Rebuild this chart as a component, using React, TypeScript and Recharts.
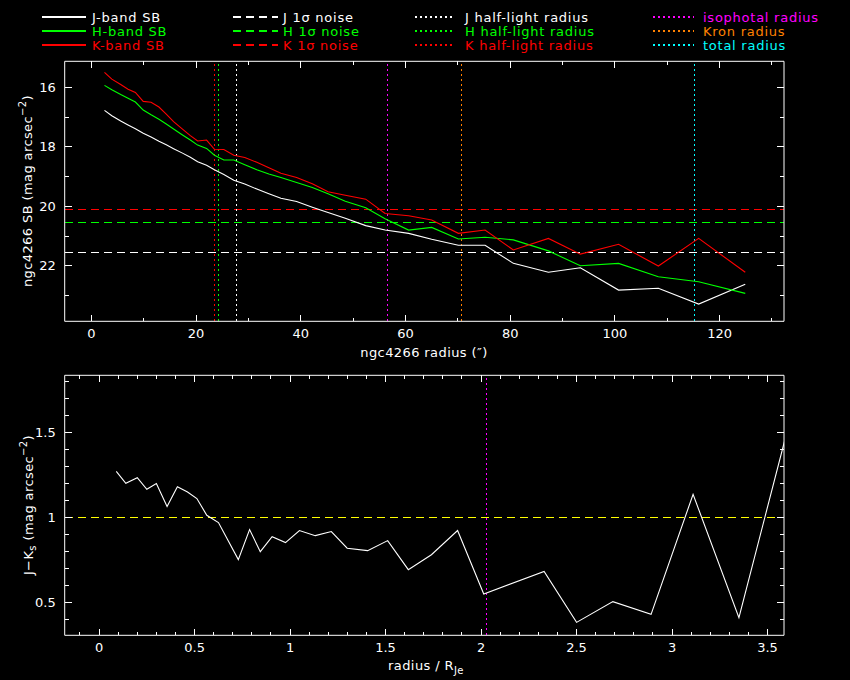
import React from 'react';
import { LineChart, Line, XAxis, YAxis, ReferenceLine } from 'recharts';

// surface brightness profiles (radius in arcsec)
const RADIUS = [
  2.5, 3.9, 5.6, 7.0, 8.4, 9.9, 11.4, 12.9, 14.3, 15.7, 17.4, 18.9, 20.3, 22.0, 23.5, 25.3, 27.2, 29.3, 31.6,
  33.9, 36.2, 39.2, 42.2, 45.2, 48.5, 52.4, 56.1, 60.6, 65.0, 70.1, 75.2, 80.6, 87.3, 93.4, 100.7, 108.3, 116.0,
  124.9,
];
const J_SB = [
  16.77, 16.95, 17.13, 17.26, 17.39, 17.54, 17.67, 17.81, 17.93, 18.06, 18.21, 18.35, 18.5, 18.62, 18.77, 18.93,
  19.12, 19.25, 19.42, 19.58, 19.73, 19.84, 20.03, 20.21, 20.4, 20.65, 20.8, 20.91, 21.11, 21.31, 21.31, 21.92,
  22.22, 22.07, 22.82, 22.76, 23.29, 22.62,
];
const H_SB = [
  15.93, 16.08, 16.24, 16.36, 16.49, 16.76, 16.92, 17.07, 17.23, 17.4, 17.6, 17.77, 17.94, 18.05, 18.28, 18.44,
  18.44, 18.6, 18.77, 18.91, 19.03, 19.2, 19.37, 19.58, 19.83, 20.05, 20.42, 20.8, 20.71, 21.1, 21.04, 21.13, 21.5,
  22.0, 21.92, 22.37, 22.54, 22.93,
];
const K_SB = [
  15.49, 15.72, 15.9, 16.06, 16.17, 16.47, 16.5, 16.66, 16.9, 17.15, 17.4, 17.62, 17.8, 17.77, 18.08, 18.09, 18.28,
  18.36, 18.52, 18.7, 18.89, 19.03, 19.24, 19.51, 19.63, 19.76, 20.24, 20.32, 20.46, 20.91, 20.8, 21.47, 21.08,
  21.61, 21.28, 22.01, 21.08, 22.22,
];

// 1 sigma noise levels and radii
const NOISE = { J: 21.55, H: 20.54, K: 20.12 };
const HALF_LIGHT = { J: 27.7, H: 24.3, K: 23.5 };
const ISO_RADIUS = 56.5;
const KRON_RADIUS = 70.7;
const TOTAL_RADIUS = 115.2;

// colour profile, radius in units of R_Je
const R_JE = [
  0.09, 0.14, 0.2, 0.25, 0.3, 0.356, 0.41, 0.463, 0.512, 0.564, 0.625, 0.729, 0.788, 0.844, 0.906, 0.976, 1.049,
  1.132, 1.216, 1.299, 1.406, 1.511, 1.619, 1.74, 1.877, 2.014, 2.33, 2.5, 2.69, 2.89, 3.11, 3.35, 3.61,
];
const J_K = [
  1.27, 1.2, 1.233, 1.165, 1.198, 1.063, 1.18, 1.149, 1.11, 1.012, 0.969, 0.751, 0.928, 0.798, 0.886, 0.851, 0.922,
  0.892, 0.916, 0.818, 0.804, 0.863, 0.692, 0.78, 0.922, 0.549, 0.682, 0.382, 0.504, 0.429, 1.135, 0.41, 1.54,
];
const ISO_RJE = 2.028;
const JK_REF = 1;

// ticks
const X1_TICKS = [0, 10, 20, 30, 40, 50, 60, 70, 80, 90, 100, 110, 120, 130];
const Y1_TICKS = [16, 17, 18, 19, 20, 21, 22, 23];
const X2_TICKS = [
  -0.1, 0, 0.1, 0.2, 0.3, 0.4, 0.5, 0.6, 0.7, 0.8, 0.9, 1, 1.1, 1.2, 1.3, 1.4, 1.5, 1.6, 1.7, 1.8, 1.9, 2, 2.1, 2.2,
  2.3, 2.4, 2.5, 2.6, 2.7, 2.8, 2.9, 3, 3.1, 3.2, 3.3, 3.4, 3.5,
];
const Y2_TICKS = [0.4, 0.5, 0.6, 0.7, 0.8, 0.9, 1, 1.1, 1.2, 1.3, 1.4, 1.5, 1.6, 1.7, 1.8];

const WHITE = '#ffffff';
const GREEN = '#00ff00';
const RED = '#ff0000';
const MAGENTA = '#ff00ff';
const ORANGE = '#ff8000';
const CYAN = '#00ffff';
const YELLOW = '#ffff00';
const FONT = '"DejaVu Sans", sans-serif';
const DASH = '8 5';
const DOT = '2 3';

const sbData = RADIUS.map((r, i) => ({ r, j: J_SB[i], h: H_SB[i], k: K_SB[i] }));
const jkData = R_JE.map((x, i) => ({ x, jk: J_K[i] }));

const isMajor = (v: number, step: number) => Math.abs(v / step - Math.round(v / step)) < 1e-6;

// inward PGPLOT-style ticks, labels only on the bottom/left axes
function makeTick(side: 'bottom' | 'top' | 'left' | 'right', step: number, labelled: boolean) {
  return (props: any) => {
    const { x, y, payload } = props;
    const v = payload.value as number;
    const big = isMajor(v, step);
    const horiz = side === 'bottom' || side === 'top';
    const len = horiz ? (big ? 6.5 : 3.5) : big ? 7 : 4;
    let x2 = x;
    let y2 = y;
    if (side === 'bottom') y2 = y - len;
    if (side === 'top') y2 = y + len;
    if (side === 'left') x2 = x + len;
    if (side === 'right') x2 = x - len;
    return (
      <g>
        <line x1={x} y1={y} x2={x2} y2={y2} stroke={WHITE} strokeWidth={1} shapeRendering="crispEdges" />
        {labelled && big && side === 'bottom' && (
          <text x={x} y={y + 12.5} textAnchor="middle" dominantBaseline="central" fill={WHITE} fontSize={13} fontFamily={FONT}>
            {String(Math.round(v * 10) / 10)}
          </text>
        )}
        {labelled && big && side === 'left' && (
          <text x={x - 9} y={y} textAnchor="end" dominantBaseline="central" fill={WHITE} fontSize={13} fontFamily={FONT}>
            {String(Math.round(v * 10) / 10)}
          </text>
        )}
      </g>
    );
  };
}

const axisLine = { stroke: WHITE, strokeWidth: 1 };

function SBChart() {
  return (
    <LineChart width={850} height={340} data={sbData} margin={{ top: 51.3, right: 56, bottom: 8.7, left: 14.7 }}>
      <XAxis
        xAxisId="b"
        type="number"
        dataKey="r"
        domain={[-5.1, 132.3]}
        allowDataOverflow
        ticks={X1_TICKS}
        interval={0}
        tickSize={0}
        tickMargin={0}
        height={10}
        axisLine={axisLine}
        tickLine={false}
        tick={makeTick('bottom', 20, true)}
      />
      <XAxis
        xAxisId="t"
        orientation="top"
        type="number"
        dataKey="r"
        domain={[-5.1, 132.3]}
        allowDataOverflow
        ticks={X1_TICKS}
        interval={0}
        tickSize={0}
        tickMargin={0}
        height={10}
        axisLine={axisLine}
        tickLine={false}
        tick={makeTick('top', 20, false)}
      />
      <YAxis
        yAxisId="l"
        type="number"
        domain={[15.12, 23.87]}
        reversed
        allowDataOverflow
        ticks={Y1_TICKS}
        interval={0}
        tickSize={0}
        tickMargin={0}
        width={50}
        axisLine={axisLine}
        tickLine={false}
        tick={makeTick('left', 2, true)}
      />
      <YAxis
        yAxisId="r"
        orientation="right"
        type="number"
        domain={[15.12, 23.87]}
        reversed
        allowDataOverflow
        ticks={Y1_TICKS}
        interval={0}
        tickSize={0}
        tickMargin={0}
        width={10}
        axisLine={axisLine}
        tickLine={false}
        tick={makeTick('right', 2, false)}
      />
      <ReferenceLine xAxisId="b" yAxisId="l" y={NOISE.K} stroke={RED} strokeDasharray={DASH} shapeRendering="crispEdges" />
      <ReferenceLine xAxisId="b" yAxisId="l" y={NOISE.H} stroke={GREEN} strokeDasharray={DASH} shapeRendering="crispEdges" />
      <ReferenceLine xAxisId="b" yAxisId="l" y={NOISE.J} stroke={WHITE} strokeDasharray={DASH} shapeRendering="crispEdges" />
      <ReferenceLine xAxisId="b" yAxisId="l" x={HALF_LIGHT.K} stroke={RED} strokeDasharray={DOT} shapeRendering="crispEdges" />
      <ReferenceLine xAxisId="b" yAxisId="l" x={HALF_LIGHT.H} stroke={GREEN} strokeDasharray={DOT} shapeRendering="crispEdges" />
      <ReferenceLine xAxisId="b" yAxisId="l" x={HALF_LIGHT.J} stroke={WHITE} strokeDasharray={DOT} shapeRendering="crispEdges" />
      <ReferenceLine xAxisId="b" yAxisId="l" x={ISO_RADIUS} stroke={MAGENTA} strokeDasharray={DOT} shapeRendering="crispEdges" />
      <ReferenceLine xAxisId="b" yAxisId="l" x={KRON_RADIUS} stroke={ORANGE} strokeDasharray={DOT} shapeRendering="crispEdges" />
      <ReferenceLine xAxisId="b" yAxisId="l" x={TOTAL_RADIUS} stroke={CYAN} strokeDasharray={DOT} shapeRendering="crispEdges" />
      <Line xAxisId="b" yAxisId="l" dataKey="j" stroke={WHITE} strokeWidth={1.1} dot={false} isAnimationActive={false} />
      <Line xAxisId="b" yAxisId="l" dataKey="h" stroke={GREEN} strokeWidth={1.1} dot={false} isAnimationActive={false} />
      <Line xAxisId="b" yAxisId="l" dataKey="k" stroke={RED} strokeWidth={1.1} dot={false} isAnimationActive={false} />
    </LineChart>
  );
}

function JKChart() {
  return (
    <LineChart width={850} height={340} data={jkData} margin={{ top: 25.3, right: 56, bottom: 34.7, left: 14.7 }}>
      <XAxis
        xAxisId="b"
        type="number"
        dataKey="x"
        domain={[-0.18, 3.586]}
        allowDataOverflow
        ticks={X2_TICKS}
        interval={0}
        tickSize={0}
        tickMargin={0}
        height={10}
        axisLine={axisLine}
        tickLine={false}
        tick={makeTick('bottom', 0.5, true)}
      />
      <XAxis
        xAxisId="t"
        orientation="top"
        type="number"
        dataKey="x"
        domain={[-0.18, 3.586]}
        allowDataOverflow
        ticks={X2_TICKS}
        interval={0}
        tickSize={0}
        tickMargin={0}
        height={10}
        axisLine={axisLine}
        tickLine={false}
        tick={makeTick('top', 0.5, false)}
      />
      <YAxis
        yAxisId="l"
        type="number"
        domain={[0.306, 1.835]}
        allowDataOverflow
        ticks={Y2_TICKS}
        interval={0}
        tickSize={0}
        tickMargin={0}
        width={50}
        axisLine={axisLine}
        tickLine={false}
        tick={makeTick('left', 0.5, true)}
      />
      <YAxis
        yAxisId="r"
        orientation="right"
        type="number"
        domain={[0.306, 1.835]}
        allowDataOverflow
        ticks={Y2_TICKS}
        interval={0}
        tickSize={0}
        tickMargin={0}
        width={10}
        axisLine={axisLine}
        tickLine={false}
        tick={makeTick('right', 0.5, false)}
      />
      <ReferenceLine xAxisId="b" yAxisId="l" y={JK_REF} stroke={YELLOW} strokeDasharray={DASH} shapeRendering="crispEdges" />
      <ReferenceLine xAxisId="b" yAxisId="l" x={ISO_RJE} stroke={MAGENTA} strokeDasharray={DOT} shapeRendering="crispEdges" />
      <Line xAxisId="b" yAxisId="l" dataKey="jk" stroke={WHITE} strokeWidth={1.1} dot={false} isAnimationActive={false} />
    </LineChart>
  );
}

const LEGEND_ROWS = [17, 31, 45];
const LEGEND_COLS = [
  { x1: 42, x2: 86, tx: 92 },
  { x1: 233, x2: 278, tx: 283 },
  { x1: 415, x2: 455, tx: 465 },
  { x1: 653, x2: 694, tx: 703 },
];
const LEGEND = [
  { col: 0, row: 0, text: 'J-band SB', color: WHITE, dash: undefined },
  { col: 0, row: 1, text: 'H-band SB', color: GREEN, dash: undefined },
  { col: 0, row: 2, text: 'K-band SB', color: RED, dash: undefined },
  { col: 1, row: 0, text: 'J 1σ noise', color: WHITE, dash: DASH },
  { col: 1, row: 1, text: 'H 1σ noise', color: GREEN, dash: DASH },
  { col: 1, row: 2, text: 'K 1σ noise', color: RED, dash: DASH },
  { col: 2, row: 0, text: 'J half-light radius', color: WHITE, dash: DOT },
  { col: 2, row: 1, text: 'H half-light radius', color: GREEN, dash: DOT },
  { col: 2, row: 2, text: 'K half-light radius', color: RED, dash: DOT },
  { col: 3, row: 0, text: 'isophotal radius', color: MAGENTA, dash: DOT },
  { col: 3, row: 1, text: 'Kron radius', color: ORANGE, dash: DOT },
  { col: 3, row: 2, text: 'total radius', color: CYAN, dash: DOT },
];

function Overlay() {
  const txt = { fill: WHITE, fontSize: 13, fontFamily: FONT, letterSpacing: 0.4 };
  return (
    <svg width={850} height={680} style={{ position: 'absolute', left: 0, top: 0, pointerEvents: 'none' }}>
      {LEGEND.map((e) => {
        const c = LEGEND_COLS[e.col];
        const y = LEGEND_ROWS[e.row];
        return (
          <g key={e.text}>
            <line x1={c.x1} y1={y} x2={c.x2} y2={y} stroke={e.color} strokeWidth={1.2} strokeDasharray={e.dash} shapeRendering="crispEdges" />
            <text x={c.tx} y={y} dominantBaseline="central" {...txt} letterSpacing={0.75} fill={e.color}>
              {e.text}
            </text>
          </g>
        );
      })}
      <text x={424} y={352} textAnchor="middle" dominantBaseline="central" {...txt}>
        ngc4266 radius (″)
      </text>
      <text x={27} y={191} textAnchor="middle" dominantBaseline="central" transform="rotate(-90 27 191)" {...txt}>
        ngc4266 SB (mag arcsec<tspan dy={-5} fontSize={10}>−2</tspan>
        <tspan dy={5}>)</tspan>
      </text>
      <text x={426} y={665} textAnchor="middle" dominantBaseline="central" {...txt}>
        radius / R<tspan dy={5} fontSize={10}>Je</tspan>
      </text>
      <text x={28} y={505} textAnchor="middle" dominantBaseline="central" transform="rotate(-90 28 505)" {...txt}>
        J−K<tspan dy={4} fontSize={10}>s</tspan>
        <tspan dy={-4}> (mag arcsec</tspan>
        <tspan dy={-5} fontSize={10}>−2</tspan>
        <tspan dy={5}>)</tspan>
      </text>
    </svg>
  );
}

export default function App() {
  return (
    <div style={{ position: 'fixed', left: 0, top: 0, width: 850, height: 680, background: '#000', overflow: 'hidden' }}>
      <div style={{ position: 'absolute', left: 0, top: 0 }}>
        <SBChart />
      </div>
      <div style={{ position: 'absolute', left: 0, top: 340 }}>
        <JKChart />
      </div>
      <Overlay />
    </div>
  );
}
